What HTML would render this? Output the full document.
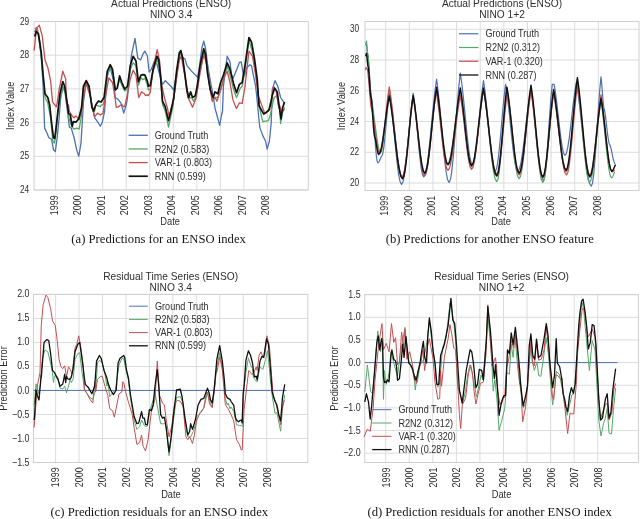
<!DOCTYPE html><html><head><meta charset="utf-8"><style>html,body{margin:0;padding:0;background:#fff;width:640px;height:519px;overflow:hidden}svg{display:block;filter:blur(0.5px);}text{font-family:"Liberation Sans",sans-serif;fill:#2e2e2e}.cap{font-family:"Liberation Serif",serif;fill:#151515}</style></head><body>
<svg width="640" height="519" viewBox="0 0 640 519">
<line x1="55.6" y1="21.5" x2="55.6" y2="190" stroke="#dcdcdc"/>
<line x1="79.14" y1="21.5" x2="79.14" y2="190" stroke="#dcdcdc"/>
<line x1="102.68" y1="21.5" x2="102.68" y2="190" stroke="#dcdcdc"/>
<line x1="126.22" y1="21.5" x2="126.22" y2="190" stroke="#dcdcdc"/>
<line x1="149.76" y1="21.5" x2="149.76" y2="190" stroke="#dcdcdc"/>
<line x1="173.3" y1="21.5" x2="173.3" y2="190" stroke="#dcdcdc"/>
<line x1="196.84" y1="21.5" x2="196.84" y2="190" stroke="#dcdcdc"/>
<line x1="220.38" y1="21.5" x2="220.38" y2="190" stroke="#dcdcdc"/>
<line x1="243.92" y1="21.5" x2="243.92" y2="190" stroke="#dcdcdc"/>
<line x1="267.46" y1="21.5" x2="267.46" y2="190" stroke="#dcdcdc"/>
<line x1="34" y1="190" x2="308.3" y2="190" stroke="#dcdcdc"/>
<line x1="34" y1="156.3" x2="308.3" y2="156.3" stroke="#dcdcdc"/>
<line x1="34" y1="122.6" x2="308.3" y2="122.6" stroke="#dcdcdc"/>
<line x1="34" y1="88.9" x2="308.3" y2="88.9" stroke="#dcdcdc"/>
<line x1="34" y1="55.2" x2="308.3" y2="55.2" stroke="#dcdcdc"/>
<line x1="34" y1="21.5" x2="308.3" y2="21.5" stroke="#dcdcdc"/>
<rect x="34" y="21.5" width="274.3" height="168.5" fill="none" stroke="#d0d0d0"/>
<polyline fill="none" stroke="#4C72B0" stroke-width="1.3" stroke-linejoin="round" points="34.69,31.88 36.56,28.12 39.38,39.38 41.25,58.12 43.12,86.25 44.62,128.12 46.88,132.81 48.75,137.5 51.56,139.38 53.44,149.69 55.31,151.56 57.19,137.5 59.06,118.75 60.5,100 62.8,86.5 65,92 67.5,112 69.38,127.19 71.25,128.12 74.06,137.5 76.88,150.62 78.75,156.25 81,143.12 83.44,102.5 86.25,80.62 89,87 92,106 94.69,117.81 97.5,121.56 100.31,126.25 102.19,122.5 104.62,111.25 106.88,76.88 110.25,67.5 113.44,80.62 115.31,97.5 118.12,99.38 120.94,103.12 123.75,113.12 126.56,103.75 127.5,97.5 131.25,56.25 135,38.44 137.81,58.12 140.62,60 142.81,54.38 144.81,51.09 147.34,55.78 149.22,72.19 151.25,69.38 154.06,61.88 156.88,63.75 158.75,71.25 162.5,84.38 165.31,80.62 168.12,83.44 170.94,86.25 173.75,90 176.56,73.12 180.31,52.5 183.1,57.9 184.9,58.9 187,65.6 191.8,71.4 197.6,77.2 199,70 201.88,47.81 203.75,41.25 205.62,48.75 207.5,63.75 210.31,80.62 213.12,95.62 215,108.12 216.88,115 219.69,125.31 221.56,115 222.5,111.25 223.44,86.25 227.19,56.25 230,61.88 231.4,73.9 233.1,78.6 235.4,72.8 237.7,67 239.45,62.4 241.2,61.8 242.3,68.2 243.5,76.2 244.65,75.7 246.4,68.2 249.9,64.7 251.6,65.8 253.3,75.1 255.6,86 257.3,102 259.2,122 260,128.12 262.81,135.62 265.62,141.25 267.12,149.12 269.38,141.25 271.25,122.5 272.19,90 275,80.62 277.81,86.25 280.62,97.5 284.38,103.12"/>
<polyline fill="none" stroke="#55A868" stroke-width="1.3" stroke-linejoin="round" points="34.88,29.06 36.19,27.75 37.5,28.5 41.25,56.25 43.12,76.88 45,97.5 47.81,103.12 50.62,118.75 52.88,141.25 54.38,143.12 55.88,133.75 58.12,111.25 60,97.5 63.38,87.19 65.62,93.75 69,118.75 72.19,127.19 74.06,129.06 76.88,128.12 79.12,129.06 81.56,115 83.44,88.12 86.25,83.44 90,93.75 92.81,110.94 94.69,111.25 95.62,105 97.5,105.62 100.31,106.56 101.25,105 103.12,104.69 104.06,101.25 107.81,73.12 110.25,67.5 112.5,71.25 115.31,90 117.2,88.1 119.6,79.5 121.9,85.5 124.7,91 127.5,89 130.31,69.38 133.12,62.81 135.94,65.62 138.38,85.31 141,77.81 142.81,79.69 144.81,78.28 147.19,84.38 148.44,90 150.31,89.06 153.12,71.25 156.88,60 158.75,63.75 160.62,78.75 162.5,104.38 165.31,110.94 168.5,127.19 171.88,111.25 172.81,106.88 176.56,76.88 179.38,54.38 180.88,53.44 182.75,60.94 185.94,80.62 188.75,98.44 191.56,97.5 193.44,101.25 196.25,95.62 200,71.25 203.75,52.5 206.56,60 209.38,82.5 212.19,99.38 215,97.5 217.81,97.5 220.62,90 223.44,78.75 227.19,66.56 230,75 233.75,90 236.56,97.5 240.31,88.12 242.19,86.25 245,69.38 248.94,40.78 251.84,49.69 254.56,63.75 257.19,86.25 260,110 262.81,121.56 268.44,120.62 270.31,115 274.06,97.5 276.88,95.62 278.75,107.5 279.69,108.75 280.6,123.4 282.5,112.81 284.56,107.19"/>
<polyline fill="none" stroke="#C44E52" stroke-width="1.3" stroke-linejoin="round" points="34.12,50.62 36.56,28.12 39.38,25.31 42.19,35.62 45,60 47.81,67.5 50.62,80.62 52.5,101.88 53.44,103.12 55.31,105.62 56.25,106.88 57.19,102.81 59.06,90 62.81,71.25 65.62,78.75 66.56,103.75 68.44,105 69.38,111.25 72.19,115.94 74.06,117.81 75.94,115.94 79.12,119.69 81.56,111.25 84,93.75 86.25,83.44 90,95.62 92.81,108.75 94.69,116.88 97.5,113.12 100.31,115 103.12,113.12 105,99.69 108.75,77.81 112.5,82.5 115.31,99.38 116.25,107.5 118.12,106.88 120.94,105 121.88,104.69 123.75,106.88 124.69,106.56 127.5,93.75 130.31,78.75 133.12,70.31 135.94,75 138.75,97.5 141.56,91.88 142.81,92.81 144.38,93.75 145.62,95.62 147.19,94.69 148.44,95.62 150.31,91.88 153.12,67.5 157.25,49.69 159.69,61.88 161.56,84.38 164.38,97.5 167.19,107.19 169.06,115.94 171.88,105.62 172.81,105 175.62,84.38 179.38,60 181.25,56.25 185,76.88 187.81,97.5 189.97,101.56 192.5,107.19 194.38,102.5 196.25,97.5 200,73.12 203.75,54.38 206.56,63.75 209.38,84.38 212.19,101.25 215,97.5 216.88,101.25 220.62,90 224.38,76.88 227.19,71.25 230,82.5 232.81,99.38 235.62,106.88 236.56,108.44 239.38,102.81 242.19,103.44 245,86.25 248.94,51.09 252.5,56.25 255.31,73.12 257.19,86.25 258.12,95.62 260.94,103.12 264.69,113.12 268.44,111.25 270.31,103.12 271.25,103.75 273.5,86.25 275.94,90 278.75,106.88 279.69,105.62 281.56,112.81 283.44,109.38 284.38,110.47"/>
<polyline fill="none" stroke="#111111" stroke-width="1.7" stroke-linejoin="round" points="34.69,36.56 36.19,31.5 38.44,33.75 41.25,52.5 43.12,75 45,93.75 47.81,97.5 49.69,105 51.56,122.5 53.44,137.5 54.75,138.44 56.25,126.25 58.12,109.38 60,93.75 62.81,81.56 64.69,86.25 67.5,105 68.44,113.12 70.31,115 72.19,126.25 73.5,121.56 75.94,122.12 78.75,118.75 81.56,107.5 83.44,86.25 86.25,80.62 89.06,86.25 91.88,107.19 93.56,110.94 95.81,104.84 98.44,101.09 101.06,102.03 104.06,97.5 107.25,71.25 110.25,64.69 112.5,69.38 115.31,90 117.19,88.12 119.62,75.94 121.88,82.5 124.69,89.06 127.5,86.25 130.31,65.62 133.12,56.25 135.94,60.94 138.38,81.56 141,75 142.81,74.62 144.81,74.81 147.19,80.62 148.44,86.25 150.31,85.31 153.12,69.38 156.88,56.25 158.75,60 160.62,76.88 162.5,101.25 165.31,106.88 166.25,111.25 168.5,120.62 170.94,111.25 173.75,97.5 176.56,71.25 179.38,52.5 180.88,50.62 182.75,58.12 185,75 186.88,90 188.75,97.5 190.62,91.88 192.5,97.5 195.31,95.62 197.19,86.25 200,65.62 203.75,48.75 205.62,54.38 207.5,73.12 210.31,90 213.12,97.5 215,91.88 217.81,93.75 220.62,82.5 223.44,75 227.19,62.81 230,69.38 233.75,84.38 236.56,92.81 239.38,84.38 242.19,82.5 245,65.62 248.94,37.5 251.56,42.19 254.38,58.12 257.19,78.75 259.06,105.78 263.75,114.06 266.56,112.19 269.38,109.38 272.19,95.62 274.62,88.12 277.25,91.88 279.69,110 281,118.8 282.5,108.12 284.56,102.03"/>
<text transform="translate(29.2,193) scale(1,1.27)" font-size="8.3" text-anchor="end">24</text>
<text transform="translate(29.2,159.3) scale(1,1.27)" font-size="8.3" text-anchor="end">25</text>
<text transform="translate(29.2,125.6) scale(1,1.27)" font-size="8.3" text-anchor="end">26</text>
<text transform="translate(29.2,91.9) scale(1,1.27)" font-size="8.3" text-anchor="end">27</text>
<text transform="translate(29.2,58.2) scale(1,1.27)" font-size="8.3" text-anchor="end">28</text>
<text transform="translate(29.2,24.5) scale(1,1.27)" font-size="8.3" text-anchor="end">29</text>
<text transform="translate(57.5,195.3) rotate(-90) scale(1,1.12)" font-size="9" text-anchor="end">1999</text>
<text transform="translate(81.04,195.3) rotate(-90) scale(1,1.12)" font-size="9" text-anchor="end">2000</text>
<text transform="translate(104.58,195.3) rotate(-90) scale(1,1.12)" font-size="9" text-anchor="end">2001</text>
<text transform="translate(128.12,195.3) rotate(-90) scale(1,1.12)" font-size="9" text-anchor="end">2002</text>
<text transform="translate(151.66,195.3) rotate(-90) scale(1,1.12)" font-size="9" text-anchor="end">2003</text>
<text transform="translate(175.2,195.3) rotate(-90) scale(1,1.12)" font-size="9" text-anchor="end">2004</text>
<text transform="translate(198.74,195.3) rotate(-90) scale(1,1.12)" font-size="9" text-anchor="end">2005</text>
<text transform="translate(222.28,195.3) rotate(-90) scale(1,1.12)" font-size="9" text-anchor="end">2006</text>
<text transform="translate(245.82,195.3) rotate(-90) scale(1,1.12)" font-size="9" text-anchor="end">2007</text>
<text transform="translate(269.36,195.3) rotate(-90) scale(1,1.12)" font-size="9" text-anchor="end">2008</text>
<text transform="translate(171.15,7.3) scale(1,1.08)" font-size="10.2" text-anchor="middle">Actual Predictions (ENSO)</text>
<text transform="translate(171.15,18.2) scale(1,1.08)" font-size="10.2" text-anchor="middle">NINO 3.4</text>
<text transform="translate(170.15,224.6) scale(1,1.1)" font-size="9.3" text-anchor="middle">Date</text>
<text transform="translate(14.4,105.75) rotate(-90) scale(1,1.1)" font-size="9.3" text-anchor="middle">Index Value</text>
<line x1="128.6" y1="135.3" x2="147.8" y2="135.3" stroke="#4C72B0" stroke-width="1.3"/>
<text transform="translate(154.7,138.9) scale(1,1.15)" font-size="9.1">Ground Truth</text>
<line x1="128.6" y1="148.95" x2="147.8" y2="148.95" stroke="#55A868" stroke-width="1.3"/>
<text transform="translate(154.7,152.55) scale(1,1.15)" font-size="9.1">R2N2 (0.583)</text>
<line x1="128.6" y1="162.6" x2="147.8" y2="162.6" stroke="#C44E52" stroke-width="1.3"/>
<text transform="translate(154.7,166.2) scale(1,1.15)" font-size="9.1">VAR-1 (0.803)</text>
<line x1="128.6" y1="176.25" x2="147.8" y2="176.25" stroke="#111111" stroke-width="1.7"/>
<text transform="translate(154.7,179.85) scale(1,1.15)" font-size="9.1">RNN (0.599)</text>
<text class="cap" transform="translate(158.6,243)" font-size="12.65" text-anchor="middle">(a) Predictions for an ENSO index</text>
<line x1="385.7" y1="21.5" x2="385.7" y2="190.5" stroke="#dcdcdc"/>
<line x1="409.33" y1="21.5" x2="409.33" y2="190.5" stroke="#dcdcdc"/>
<line x1="432.96" y1="21.5" x2="432.96" y2="190.5" stroke="#dcdcdc"/>
<line x1="456.59" y1="21.5" x2="456.59" y2="190.5" stroke="#dcdcdc"/>
<line x1="480.22" y1="21.5" x2="480.22" y2="190.5" stroke="#dcdcdc"/>
<line x1="503.85" y1="21.5" x2="503.85" y2="190.5" stroke="#dcdcdc"/>
<line x1="527.48" y1="21.5" x2="527.48" y2="190.5" stroke="#dcdcdc"/>
<line x1="551.11" y1="21.5" x2="551.11" y2="190.5" stroke="#dcdcdc"/>
<line x1="574.74" y1="21.5" x2="574.74" y2="190.5" stroke="#dcdcdc"/>
<line x1="598.37" y1="21.5" x2="598.37" y2="190.5" stroke="#dcdcdc"/>
<line x1="365" y1="183" x2="639" y2="183" stroke="#dcdcdc"/>
<line x1="365" y1="152.25" x2="639" y2="152.25" stroke="#dcdcdc"/>
<line x1="365" y1="121.5" x2="639" y2="121.5" stroke="#dcdcdc"/>
<line x1="365" y1="90.75" x2="639" y2="90.75" stroke="#dcdcdc"/>
<line x1="365" y1="60" x2="639" y2="60" stroke="#dcdcdc"/>
<line x1="365" y1="29.25" x2="639" y2="29.25" stroke="#dcdcdc"/>
<rect x="365" y="21.5" width="274" height="169" fill="none" stroke="#d0d0d0"/>
<polyline fill="none" stroke="#4C72B0" stroke-width="1.2" stroke-linejoin="round" points="365.5,45 365.59,44.95 365.68,44.79 365.76,44.55 365.85,44.25 365.94,43.92 366.02,43.6 366.11,43.32 366.2,43.1 366.43,44.49 366.65,46.25 366.88,48.24 367.1,50.28 367.32,52.16 367.55,53.68 367.77,54.66 368,55 368.5,60.25 369,66.91 369.5,74.45 370,82.16 370.5,89.26 371,94.99 371.5,98.71 372,100 372.73,107.32 373.45,116.61 374.18,127.14 374.9,137.9 375.62,147.82 376.35,155.81 377.07,161 377.8,162.8 378.28,162.61 378.75,162.07 379.23,161.24 379.7,160.2 380.18,159.08 380.65,157.98 381.12,157.01 381.6,156.25 382.59,154.41 383.58,149.1 384.56,140.92 385.55,130.78 386.54,119.76 387.52,109 388.51,99.49 389.5,92 391.01,102.77 392.52,116.45 394.04,131.93 395.55,147.77 397.06,162.35 398.58,174.12 400.09,181.75 401.6,184.4 403.05,181.79 404.5,174.24 405.95,162.62 407.4,148.2 408.85,132.55 410.3,117.25 411.75,103.74 413.2,93.1 414.52,102.87 415.84,115.27 417.16,129.31 418.48,143.68 419.79,156.91 421.11,167.57 422.43,174.5 423.75,176.9 425.36,174.1 426.96,166.02 428.57,153.58 430.18,138.15 431.78,121.39 433.39,105.01 434.99,90.55 436.6,79.15 438.16,91.2 439.73,106.49 441.29,123.81 442.85,141.53 444.41,157.84 445.98,171 447.54,179.54 449.1,182.5 450.5,179.37 451.9,170.33 453.3,156.4 454.7,139.13 456.1,120.37 457.5,102.04 458.9,85.85 460.3,73.1 461.82,83.78 463.35,97.33 464.88,112.68 466.4,128.39 467.93,142.84 469.45,154.51 470.98,162.08 472.5,164.7 473.88,162.29 475.25,155.34 476.62,144.63 478,131.36 479.38,116.94 480.75,102.85 482.12,90.4 483.5,80.6 484.98,91.17 486.45,104.6 487.93,119.79 489.4,135.34 490.88,149.66 492.35,161.21 493.82,168.7 495.3,171.3 496.59,168.81 497.88,161.63 499.16,150.57 500.45,136.85 501.74,121.95 503.03,107.39 504.31,94.53 505.6,84.4 507.12,94.53 508.65,107.39 510.18,121.95 511.7,136.85 513.23,150.57 514.75,161.63 516.27,168.81 517.8,171.3 519.45,168.91 521.1,162.03 522.75,151.43 524.4,138.28 526.05,124 527.7,110.04 529.35,97.71 531,88 532.55,98.79 534.1,112.5 535.65,128.01 537.2,143.89 538.75,158.51 540.3,170.3 541.85,177.95 543.4,180.6 544.51,177.85 545.61,169.89 546.72,157.65 547.83,142.46 548.93,125.97 550.04,109.85 551.14,95.61 552.25,84.4 552.48,84.4 552.71,84.4 552.94,84.4 553.17,84.4 553.41,84.4 553.64,84.4 553.87,84.4 554.1,84.4 555.46,92.67 556.83,103.16 558.19,115.04 559.55,127.19 560.91,138.38 562.27,147.41 563.64,153.27 565,155.3 566.41,153.22 567.83,147.2 569.24,137.93 570.65,126.44 572.06,113.96 573.47,101.76 574.89,90.99 576.3,82.5 578.17,94.59 580.05,109.95 581.92,127.33 583.8,145.12 585.67,161.5 587.55,174.7 589.42,183.28 591.3,186.25 592.51,183.12 593.72,174.08 594.94,160.16 596.15,142.9 597.36,124.15 598.58,105.83 599.79,89.65 601,76.9 601.42,80.69 601.85,85.5 602.27,90.94 602.7,96.52 603.12,101.65 603.55,105.78 603.98,108.47 604.4,109.4 605.1,113.55 605.8,118.82 606.5,124.78 607.2,130.89 607.9,136.51 608.6,141.04 609.3,143.98 610,145 610.66,147.19 611.33,149.96 611.99,153.1 612.65,156.32 613.31,159.28 613.97,161.66 614.64,163.21 615.3,163.75"/>
<polyline fill="none" stroke="#55A868" stroke-width="1.2" stroke-linejoin="round" points="365.6,43 365.71,42.95 365.83,42.81 365.94,42.58 366.05,42.31 366.16,42.01 366.27,41.71 366.39,41.45 366.5,41.25 366.69,42.85 366.88,44.89 367.06,47.19 367.25,49.55 367.44,51.72 367.62,53.47 367.81,54.61 368,55 368.5,60.83 369,68.23 369.5,76.61 370,85.18 370.5,93.07 371,99.44 371.5,103.57 372,105 373.07,110.54 374.15,117.57 375.23,125.53 376.3,133.67 377.38,141.17 378.45,147.21 379.53,151.14 380.6,152.5 381.69,150.69 382.78,145.47 383.86,137.42 384.95,127.44 386.04,116.61 387.12,106.02 388.21,96.67 389.3,89.3 390.91,99.64 392.52,112.77 394.14,127.63 395.75,142.84 397.36,156.84 398.98,168.13 400.59,175.46 402.2,178 403.57,175.65 404.95,168.87 406.32,158.44 407.7,145.49 409.07,131.43 410.45,117.69 411.82,105.56 413.2,96 414.64,105.09 416.07,116.64 417.51,129.7 418.95,143.08 420.39,155.39 421.82,165.32 423.26,171.77 424.7,174 426.19,171.57 427.68,164.54 429.16,153.72 430.65,140.3 432.14,125.73 433.62,111.49 435.11,98.91 436.6,89 437.93,97.82 439.25,109.03 440.57,121.71 441.9,134.69 443.23,146.64 444.55,156.28 445.88,162.53 447.2,164.7 448.84,162.56 450.48,156.39 452.11,146.88 453.75,135.09 455.39,122.28 457.02,109.76 458.66,98.71 460.3,90 461.71,98.98 463.12,110.37 464.54,123.27 465.95,136.47 467.36,148.63 468.78,158.43 470.19,164.79 471.6,167 473.09,164.77 474.58,158.32 476.06,148.39 477.55,136.08 479.04,122.7 480.52,109.64 482.01,98.09 483.5,89 485.16,99.79 486.82,113.5 488.49,129.01 490.15,144.89 491.81,159.51 493.48,171.3 495.14,178.95 496.8,181.6 498.06,178.95 499.32,171.3 500.59,159.51 501.85,144.89 503.11,129.01 504.38,113.5 505.64,99.79 506.9,89 508.42,99.46 509.95,112.74 511.48,127.78 513,143.17 514.52,157.34 516.05,168.76 517.58,176.18 519.1,178.75 520.59,176.15 522.08,168.65 523.56,157.1 525.05,142.77 526.54,127.21 528.02,112.01 529.51,98.58 531,88 532.48,99.02 533.95,113 535.42,128.83 536.9,145.04 538.38,159.95 539.85,171.98 541.32,179.79 542.8,182.5 544.15,179.88 545.5,172.32 546.85,160.67 548.2,146.23 549.55,130.54 550.9,115.21 552.25,101.67 553.6,91 555.16,100.44 556.73,112.43 558.29,126 559.85,139.89 561.41,152.67 562.98,162.99 564.54,169.68 566.1,172 567.51,169.37 568.92,161.76 570.34,150.05 571.75,135.53 573.16,119.75 574.58,104.34 575.99,90.72 577.4,80 578.91,91.95 580.42,107.12 581.94,124.29 583.45,141.86 584.96,158.04 586.48,171.09 587.99,179.56 589.5,182.5 590.94,180.17 592.38,173.43 593.81,163.05 595.25,150.19 596.69,136.22 598.12,122.56 599.56,110.5 601,101 602.31,109.95 603.62,121.32 604.94,134.19 606.25,147.35 607.56,159.48 608.88,169.25 610.19,175.6 611.5,177.8 611.9,177.63 612.3,177.15 612.7,176.42 613.1,175.5 613.5,174.51 613.9,173.53 614.3,172.68 614.7,172"/>
<polyline fill="none" stroke="#C44E52" stroke-width="1.2" stroke-linejoin="round" points="365.5,70 365.56,69.93 365.62,69.72 365.69,69.4 365.75,69.01 365.81,68.58 365.88,68.16 365.94,67.79 366,67.5 366.19,67.72 366.38,68 366.56,68.32 366.75,68.65 366.94,68.95 367.12,69.19 367.31,69.35 367.5,69.4 368.06,74.13 368.62,80.14 369.19,86.94 369.75,93.9 370.31,100.31 370.88,105.48 371.44,108.84 372,110 372.96,115.06 373.93,121.48 374.89,128.75 375.85,136.19 376.81,143.05 377.77,148.57 378.74,152.16 379.7,153.4 380.9,151.5 382.1,146 383.3,137.53 384.5,127.04 385.7,115.64 386.9,104.49 388.1,94.65 389.3,86.9 390.91,97.39 392.52,110.71 394.14,125.79 395.75,141.22 397.36,155.43 398.98,166.88 400.59,174.32 402.2,176.9 403.55,174.6 404.9,167.95 406.25,157.72 407.6,145.03 408.95,131.24 410.3,117.77 411.65,105.87 413,96.5 414.46,105.77 415.93,117.53 417.39,130.85 418.85,144.48 420.31,157.03 421.77,167.15 423.24,173.72 424.7,176 426.14,173.59 427.57,166.64 429.01,155.93 430.45,142.66 431.89,128.24 433.32,114.15 434.76,101.7 436.2,91.9 437.68,101.04 439.15,112.64 440.62,125.78 442.1,139.22 443.57,151.59 445.05,161.58 446.52,168.05 448,170.3 449.54,168.16 451.07,161.99 452.61,152.48 454.15,140.69 455.69,127.88 457.23,115.36 458.76,104.31 460.3,95.6 461.71,104.2 463.12,115.12 464.54,127.49 465.95,140.14 467.36,151.79 468.78,161.19 470.19,167.29 471.6,169.4 473.09,167.13 474.58,160.56 476.06,150.46 477.55,137.92 479.04,124.31 480.52,111.01 482.01,99.26 483.5,90 485.16,99.79 486.82,112.22 488.49,126.3 490.15,140.7 491.81,153.96 493.48,164.65 495.14,171.59 496.8,174 498.14,171.65 499.48,164.87 500.81,154.44 502.15,141.49 503.49,127.43 504.82,113.69 506.16,101.56 507.5,92 508.95,101.68 510.4,113.96 511.85,127.87 513.3,142.09 514.75,155.2 516.2,165.76 517.65,172.62 519.1,175 520.59,172.62 522.08,165.76 523.56,155.2 525.05,142.09 526.54,127.87 528.02,113.96 529.51,101.68 531,92 532.48,102.03 533.95,114.75 535.42,129.16 536.9,143.91 538.38,157.48 539.85,168.43 541.32,175.54 542.8,178 544.15,175.59 545.5,168.62 546.85,157.9 548.2,144.6 549.55,130.16 550.9,116.04 552.25,103.57 553.6,93.75 555.21,103.22 556.83,115.25 558.44,128.86 560.05,142.79 561.66,155.61 563.27,165.96 564.89,172.67 566.5,175 567.89,172.41 569.27,164.92 570.66,153.38 572.05,139.08 573.44,123.55 574.83,108.37 576.21,94.96 577.6,84.4 579.12,94.96 580.65,108.37 582.17,123.55 583.7,139.08 585.23,153.38 586.75,164.92 588.27,172.41 589.8,175 591.2,172.7 592.6,166.06 594,155.84 595.4,143.17 596.8,129.4 598.2,115.94 599.6,104.06 601,94.7 602.38,103.71 603.75,115.15 605.12,128.1 606.5,141.35 607.88,153.56 609.25,163.4 610.62,169.79 612,172 612.34,171.95 612.67,171.81 613.01,171.59 613.35,171.33 613.69,171.03 614.03,170.75 614.36,170.5 614.7,170.3"/>
<polyline fill="none" stroke="#111111" stroke-width="1.5" stroke-linejoin="round" points="365.5,56 365.62,55.93 365.75,55.71 365.88,55.38 366,54.97 366.12,54.52 366.25,54.09 366.38,53.7 366.5,53.4 366.74,55.04 366.98,57.13 367.21,59.49 367.45,61.91 367.69,64.14 367.92,65.93 368.16,67.1 368.4,67.5 368.76,71.06 369.11,75.57 369.47,80.68 369.82,85.91 370.18,90.72 370.54,94.61 370.89,97.13 371.25,98 371.72,102.6 372.19,108.45 372.66,115.07 373.12,121.84 373.59,128.08 374.06,133.1 374.53,136.37 375,137.5 375.47,139.47 375.94,141.97 376.41,144.8 376.88,147.7 377.34,150.37 377.81,152.52 378.28,153.92 378.75,154.4 380.07,152.73 381.39,147.9 382.71,140.47 384.02,131.25 385.34,121.24 386.66,111.45 387.98,102.81 389.3,96 390.95,105.65 392.6,117.89 394.25,131.76 395.9,145.94 397.55,159.01 399.2,169.54 400.85,176.38 402.5,178.75 403.84,176.37 405.18,169.49 406.51,158.89 407.85,145.75 409.19,131.47 410.52,117.53 411.86,105.2 413.2,95.5 414.64,104.55 416.07,116.03 417.51,129.03 418.95,142.34 420.39,154.59 421.82,164.46 423.26,170.88 424.7,173.1 426.19,170.64 427.68,163.55 429.16,152.63 430.65,139.08 432.14,124.38 433.62,110 435.11,97.3 436.6,87.3 438.03,96.32 439.45,107.78 440.88,120.75 442.3,134.02 443.73,146.23 445.15,156.09 446.57,162.48 448,164.7 449.54,162.51 451.07,156.18 452.61,146.42 454.15,134.33 455.69,121.2 457.23,108.37 458.76,97.03 460.3,88.1 461.71,97.13 463.12,108.6 464.54,121.59 465.95,134.88 467.36,147.11 468.78,156.98 470.19,163.38 471.6,165.6 473.09,163.38 474.58,156.98 476.06,147.11 477.55,134.88 479.04,121.59 480.52,108.6 482.01,97.13 483.5,88.1 485.16,98.35 486.82,111.36 488.49,126.08 490.15,141.15 491.81,155.03 493.48,166.22 495.14,173.48 496.8,176 498.06,173.46 499.32,166.12 500.59,154.81 501.85,140.8 503.11,125.57 504.38,110.69 505.64,97.55 506.9,87.2 508.42,97.21 509.95,109.93 511.48,124.32 513,139.05 514.52,152.6 516.05,163.54 517.58,170.64 519.1,173.1 520.59,170.59 522.08,163.33 523.56,152.15 525.05,138.29 526.54,123.24 528.02,108.53 529.51,95.54 531,85.3 532.48,95.98 533.95,109.53 535.42,124.88 536.9,140.59 538.38,155.04 539.85,166.71 541.32,174.28 542.8,176.9 544.15,174.4 545.5,167.17 546.85,156.05 548.2,142.25 549.55,127.27 550.9,112.62 552.25,99.69 553.6,89.5 555.16,98.92 556.73,110.88 558.29,124.41 559.85,138.27 561.41,151.02 562.98,161.31 564.54,167.99 566.1,170.3 567.51,167.65 568.92,160.01 570.34,148.23 571.75,133.63 573.16,117.77 574.58,102.27 575.99,88.58 577.4,77.8 578.95,89.35 580.5,104.02 582.05,120.62 583.6,137.61 585.15,153.26 586.7,165.87 588.25,174.06 589.8,176.9 591.2,174.65 592.6,168.16 594,158.17 595.4,145.78 596.8,132.32 598.2,119.17 599.6,107.55 601,98.4 602.36,106.89 603.73,117.67 605.09,129.88 606.45,142.37 607.81,153.87 609.17,163.14 610.54,169.16 611.9,171.25 612.36,171.06 612.83,170.52 613.29,169.69 613.75,168.65 614.21,167.53 614.67,166.43 615.14,165.46 615.6,164.7"/>
<text transform="translate(359.2,186) scale(1,1.27)" font-size="8.3" text-anchor="end">20</text>
<text transform="translate(359.2,155.25) scale(1,1.27)" font-size="8.3" text-anchor="end">22</text>
<text transform="translate(359.2,124.5) scale(1,1.27)" font-size="8.3" text-anchor="end">24</text>
<text transform="translate(359.2,93.75) scale(1,1.27)" font-size="8.3" text-anchor="end">26</text>
<text transform="translate(359.2,63) scale(1,1.27)" font-size="8.3" text-anchor="end">28</text>
<text transform="translate(359.2,32.25) scale(1,1.27)" font-size="8.3" text-anchor="end">30</text>
<text transform="translate(388.1,195.8) rotate(-90) scale(1,1.12)" font-size="9" text-anchor="end">1999</text>
<text transform="translate(411.73,195.8) rotate(-90) scale(1,1.12)" font-size="9" text-anchor="end">2000</text>
<text transform="translate(435.36,195.8) rotate(-90) scale(1,1.12)" font-size="9" text-anchor="end">2001</text>
<text transform="translate(458.99,195.8) rotate(-90) scale(1,1.12)" font-size="9" text-anchor="end">2002</text>
<text transform="translate(482.62,195.8) rotate(-90) scale(1,1.12)" font-size="9" text-anchor="end">2003</text>
<text transform="translate(506.25,195.8) rotate(-90) scale(1,1.12)" font-size="9" text-anchor="end">2004</text>
<text transform="translate(529.88,195.8) rotate(-90) scale(1,1.12)" font-size="9" text-anchor="end">2005</text>
<text transform="translate(553.51,195.8) rotate(-90) scale(1,1.12)" font-size="9" text-anchor="end">2006</text>
<text transform="translate(577.14,195.8) rotate(-90) scale(1,1.12)" font-size="9" text-anchor="end">2007</text>
<text transform="translate(600.77,195.8) rotate(-90) scale(1,1.12)" font-size="9" text-anchor="end">2008</text>
<text transform="translate(502,7.3) scale(1,1.08)" font-size="10.2" text-anchor="middle">Actual Predictions (ENSO)</text>
<text transform="translate(502,18.2) scale(1,1.08)" font-size="10.2" text-anchor="middle">NINO 1+2</text>
<text transform="translate(501,225.1) scale(1,1.1)" font-size="9.3" text-anchor="middle">Date</text>
<text transform="translate(344.8,106) rotate(-90) scale(1,1.1)" font-size="9.3" text-anchor="middle">Index Value</text>
<line x1="459" y1="33.75" x2="478.4" y2="33.75" stroke="#4C72B0" stroke-width="1.2"/>
<text transform="translate(485.4,37.35) scale(1,1.15)" font-size="9.1">Ground Truth</text>
<line x1="459" y1="47.5" x2="478.4" y2="47.5" stroke="#55A868" stroke-width="1.2"/>
<text transform="translate(485.4,51.1) scale(1,1.15)" font-size="9.1">R2N2 (0.312)</text>
<line x1="459" y1="61.25" x2="478.4" y2="61.25" stroke="#C44E52" stroke-width="1.2"/>
<text transform="translate(485.4,64.85) scale(1,1.15)" font-size="9.1">VAR-1 (0.320)</text>
<line x1="459" y1="75" x2="478.4" y2="75" stroke="#111111" stroke-width="1.3"/>
<text transform="translate(485.4,78.6) scale(1,1.15)" font-size="9.1">RNN (0.287)</text>
<text class="cap" transform="translate(489.8,243)" font-size="12.65" text-anchor="middle">(b) Predictions for another ENSO feature</text>
<line x1="55.6" y1="294.4" x2="55.6" y2="462.5" stroke="#dcdcdc"/>
<line x1="79.06" y1="294.4" x2="79.06" y2="462.5" stroke="#dcdcdc"/>
<line x1="102.52" y1="294.4" x2="102.52" y2="462.5" stroke="#dcdcdc"/>
<line x1="125.98" y1="294.4" x2="125.98" y2="462.5" stroke="#dcdcdc"/>
<line x1="149.44" y1="294.4" x2="149.44" y2="462.5" stroke="#dcdcdc"/>
<line x1="172.9" y1="294.4" x2="172.9" y2="462.5" stroke="#dcdcdc"/>
<line x1="196.36" y1="294.4" x2="196.36" y2="462.5" stroke="#dcdcdc"/>
<line x1="219.82" y1="294.4" x2="219.82" y2="462.5" stroke="#dcdcdc"/>
<line x1="243.28" y1="294.4" x2="243.28" y2="462.5" stroke="#dcdcdc"/>
<line x1="266.74" y1="294.4" x2="266.74" y2="462.5" stroke="#dcdcdc"/>
<line x1="33.5" y1="462.55" x2="307.8" y2="462.55" stroke="#dcdcdc"/>
<line x1="33.5" y1="438.53" x2="307.8" y2="438.53" stroke="#dcdcdc"/>
<line x1="33.5" y1="414.51" x2="307.8" y2="414.51" stroke="#dcdcdc"/>
<line x1="33.5" y1="390.5" x2="307.8" y2="390.5" stroke="#dcdcdc"/>
<line x1="33.5" y1="366.49" x2="307.8" y2="366.49" stroke="#dcdcdc"/>
<line x1="33.5" y1="342.47" x2="307.8" y2="342.47" stroke="#dcdcdc"/>
<line x1="33.5" y1="318.45" x2="307.8" y2="318.45" stroke="#dcdcdc"/>
<line x1="33.5" y1="294.44" x2="307.8" y2="294.44" stroke="#dcdcdc"/>
<rect x="33.5" y="294.4" width="274.3" height="168.1" fill="none" stroke="#d0d0d0"/>
<polyline fill="none" stroke="#4C72B0" stroke-width="1.0" stroke-linejoin="round" points="33.5,390.4 286.25,390.4"/>
<polyline fill="none" stroke="#55A868" stroke-width="1.0" stroke-linejoin="round" points="34.2,405 36,383.8 37,388 38.8,393.8 40,386 40.31,384.38 42.19,359.25 45,349.88 47.81,351.75 50.62,363 52.5,372.38 53.44,382.5 54.38,376.12 56.25,375.56 58.12,378 60,388.12 62.81,389.06 64.69,386.25 66.56,392.81 68.44,386.25 70.31,378.94 71.25,382.5 73.12,379.31 75,359.25 77.81,353.62 79.69,352.69 81.56,368.62 84.38,388.69 87.19,393.75 90,397.5 92.81,399.38 95.62,390 97.5,363 99.75,360.19 102.19,363 105,374.25 106.88,386.25 107.81,381.75 109.69,396.56 112.5,392.81 115.31,390 119.06,364.88 121.88,358.31 123.75,358.31 125.62,368.62 128.44,379.88 130.31,397.5 134.06,420 136.88,429.38 139.69,426.56 141.56,420 144.38,425.62 145.62,426.56 147.34,426.09 149.38,412.5 155,393.75 160.62,423.75 162.5,423.75 165.31,423.75 167.19,436.88 169.06,455.62 170.94,440.62 173.75,418.12 176.56,397.5 180.31,396.56 183.12,403.12 185,421.88 187.81,436.88 190.62,436.88 193.44,431.25 196.25,421.88 200,412.5 203.75,408.28 207.5,392.34 210.31,403.12 212.19,406.88 215,382.5 216.88,366.75 219.69,352.69 222.31,367.69 224.38,386.81 225.31,398.44 227.19,405 228.12,403.12 230,408.75 230.94,406.88 233.75,411.56 236.56,424.69 239.38,425.62 241.25,425.62 242.19,426.56 244.06,386.25 245,380.62 245.94,372.38 248.38,358.31 250.62,364.88 252.5,368.62 253.44,377.44 256.25,381.19 257.19,381.75 260,366.75 262.81,369.56 265.62,359.25 267.5,350.81 269.38,368.62 270.31,378.75 272.19,395.62 275,413.44 276.88,412.5 278.75,421.88 280.62,431.25 282.5,408.75 284.75,394.69"/>
<polyline fill="none" stroke="#C44E52" stroke-width="1.0" stroke-linejoin="round" points="34.1,427.6 37.5,385 40,372.5 41.25,325.5 43.12,304.88 45.94,295.12 47.81,297.38 50.62,308.62 52.5,320.81 55.31,325.5 57.19,340.5 59.06,359.25 60.94,366.75 62.81,368.62 64.69,365.81 66.56,376.5 68.44,366.75 70.31,369.56 72.19,374.25 75,348 76.88,344.25 78.75,335.81 80.62,346.12 83.44,366.75 84.38,390 87.19,393.75 90,399.38 92.81,403.12 94.69,381.75 95.62,391.88 97.5,379.31 100.31,376.5 102.19,376.12 105,386.25 107.81,395.62 109.69,408.75 112.5,410.62 114.38,417.19 117.19,403.12 119.06,393.75 121.88,391.88 122.81,381.75 123.75,382.5 125.62,391.88 128.44,402.19 132.19,414.38 134.06,427.5 136.88,444.38 139.69,442.5 141.56,435 143.12,446.25 145.47,450.94 148.02,440 151.25,412.5 155,399.38 157.25,361.12 159.69,395.62 162.5,403.12 164.38,405 166.25,420 169.06,436.88 171.88,425.62 174.69,403.12 177.5,400.31 180.31,401.25 183.12,406.88 185.94,436.88 187.81,439.69 189.69,436.88 192.5,443.44 194.38,435 197.19,416.25 200.94,412.5 203.75,407.81 206.56,391.88 207.5,392.81 209.38,403.12 210.31,405 212.19,407.81 215,385.31 215.94,372.38 216.88,372.38 219.69,356.91 222.31,369.56 225.31,404.53 228.12,408.75 230.94,414.38 233.75,420.94 236.56,439.69 239.38,444.38 241.25,450 242.19,450 244.06,409.69 247.81,378 248.75,370.5 250.62,372.38 251.56,374.25 252.5,374.25 254.38,371.44 256.25,366.75 257.19,370.5 259.06,355.5 260.94,351.75 262.81,356.44 264.69,355.5 266.94,335.81 269.38,346.12 273.12,395.62 275.94,403.12 278.75,416.25 280.62,424.69 282.5,406.88 284.38,400.31"/>
<polyline fill="none" stroke="#111111" stroke-width="1.3" stroke-linejoin="round" points="33.8,420 34.4,418.9 36,390 37.5,396 39,400 41.25,374.62 41.3,377.5 44.06,342.38 46.88,339.56 48.75,340.5 50.62,353.62 52.5,370.5 54.38,372.38 56.25,376.12 58.12,379.88 60,386.25 62.81,384 64.69,374.25 65.62,382.5 66.56,376.12 67.5,378.75 69.38,379.31 71.25,377.44 73.12,368.62 75,351.75 77.81,344.25 79.69,342.38 81.56,355.5 84.38,378 85.31,384.38 88.12,387.19 91.88,393.75 94.69,386.25 96.56,361.12 99.38,355.5 101.25,358.31 104.06,370.5 106.88,378 107.81,382.5 110.62,390 113.44,394.69 116.25,390 118.12,363 120,358.31 123.75,355.5 124.69,357.38 126.56,370.5 128.44,378 130.31,393.75 134.06,416.25 136.88,423.75 138.75,422.81 141.56,411.56 142.81,418.12 144.38,418.12 145.62,424.69 147.34,424.69 149.38,409.69 151.25,410.62 153.12,405 155,386.25 157.25,369.56 158.75,386.25 160.62,414.38 162.5,418.12 164.38,417.19 166.25,427.5 168.12,444.38 169.06,451.88 170.94,438.75 173.75,412.5 176.56,390 180.31,389.06 182.19,397.5 185,418.12 187.81,435 189.69,431.25 190.62,423.75 192.5,429.38 195.31,420 198.12,405 200.94,399.38 203.75,398.44 207.5,388.12 209.38,393.75 210.31,399.38 212.19,403.12 214.06,390 216.88,359.25 219.69,345.66 222.31,361.12 224.38,380.25 225.31,393.75 227.19,397.5 228.12,398.44 230,399.38 230.94,401.25 233.75,405.47 235.62,418.12 236.56,420 238.44,421.88 239.38,420.94 241.25,420 242.19,422.81 243.12,393.75 244.06,386.25 245.94,360.19 248.38,350.81 250.62,355.5 252.5,363 253.44,370.5 254.38,376.88 256.25,376.12 257.19,379.88 260,361.12 261.88,356.44 263.75,357.38 266.56,338.62 268.44,344.25 270.31,366.75 272.19,391.88 275,401.25 276.88,405 278.75,414.38 280.62,420.94 282.5,397.5 284.75,384.38"/>
<text transform="translate(29.5,465.55) scale(1,1.19)" font-size="8.9" text-anchor="end">−1.5</text>
<text transform="translate(29.5,441.53) scale(1,1.19)" font-size="8.9" text-anchor="end">−1.0</text>
<text transform="translate(29.5,417.51) scale(1,1.19)" font-size="8.9" text-anchor="end">−0.5</text>
<text transform="translate(29.5,393.5) scale(1,1.19)" font-size="8.9" text-anchor="end">0.0</text>
<text transform="translate(29.5,369.49) scale(1,1.19)" font-size="8.9" text-anchor="end">0.5</text>
<text transform="translate(29.5,345.47) scale(1,1.19)" font-size="8.9" text-anchor="end">1.0</text>
<text transform="translate(29.5,321.45) scale(1,1.19)" font-size="8.9" text-anchor="end">1.5</text>
<text transform="translate(29.5,297.44) scale(1,1.19)" font-size="8.9" text-anchor="end">2.0</text>
<text transform="translate(59.4,467.2) rotate(-90) scale(1,1.12)" font-size="9" text-anchor="end">1999</text>
<text transform="translate(82.86,467.2) rotate(-90) scale(1,1.12)" font-size="9" text-anchor="end">2000</text>
<text transform="translate(106.32,467.2) rotate(-90) scale(1,1.12)" font-size="9" text-anchor="end">2001</text>
<text transform="translate(129.78,467.2) rotate(-90) scale(1,1.12)" font-size="9" text-anchor="end">2002</text>
<text transform="translate(153.24,467.2) rotate(-90) scale(1,1.12)" font-size="9" text-anchor="end">2003</text>
<text transform="translate(176.7,467.2) rotate(-90) scale(1,1.12)" font-size="9" text-anchor="end">2004</text>
<text transform="translate(200.16,467.2) rotate(-90) scale(1,1.12)" font-size="9" text-anchor="end">2005</text>
<text transform="translate(223.62,467.2) rotate(-90) scale(1,1.12)" font-size="9" text-anchor="end">2006</text>
<text transform="translate(247.08,467.2) rotate(-90) scale(1,1.12)" font-size="9" text-anchor="end">2007</text>
<text transform="translate(270.54,467.2) rotate(-90) scale(1,1.12)" font-size="9" text-anchor="end">2008</text>
<text transform="translate(170.65,280.2) scale(1,1.08)" font-size="10.2" text-anchor="middle">Residual Time Series (ENSO)</text>
<text transform="translate(170.65,291.1) scale(1,1.08)" font-size="10.2" text-anchor="middle">NINO 3.4</text>
<text transform="translate(170.95,498.3) scale(1,1.1)" font-size="9.3" text-anchor="middle">Date</text>
<text transform="translate(7.2,378.45) rotate(-90) scale(1,1.1)" font-size="9.3" text-anchor="middle">Prediction Error</text>
<line x1="129" y1="306.2" x2="147.75" y2="306.2" stroke="#4C72B0" stroke-width="1.0"/>
<text transform="translate(155,309.8) scale(1,1.15)" font-size="9.1">Ground Truth</text>
<line x1="129" y1="319.4" x2="147.75" y2="319.4" stroke="#55A868" stroke-width="1.0"/>
<text transform="translate(155,323) scale(1,1.15)" font-size="9.1">R2N2 (0.583)</text>
<line x1="129" y1="332.6" x2="147.75" y2="332.6" stroke="#C44E52" stroke-width="1.0"/>
<text transform="translate(155,336.2) scale(1,1.15)" font-size="9.1">VAR-1 (0.803)</text>
<line x1="129" y1="345.8" x2="147.75" y2="345.8" stroke="#111111" stroke-width="1.3"/>
<text transform="translate(155,349.4) scale(1,1.15)" font-size="9.1">RNN (0.599)</text>
<text class="cap" transform="translate(159.3,516.4)" font-size="12.65" text-anchor="middle">(c) Prediction residuals for an ENSO index</text>
<line x1="385.7" y1="294.6" x2="385.7" y2="462.5" stroke="#dcdcdc"/>
<line x1="409.26" y1="294.6" x2="409.26" y2="462.5" stroke="#dcdcdc"/>
<line x1="432.82" y1="294.6" x2="432.82" y2="462.5" stroke="#dcdcdc"/>
<line x1="456.38" y1="294.6" x2="456.38" y2="462.5" stroke="#dcdcdc"/>
<line x1="479.94" y1="294.6" x2="479.94" y2="462.5" stroke="#dcdcdc"/>
<line x1="503.5" y1="294.6" x2="503.5" y2="462.5" stroke="#dcdcdc"/>
<line x1="527.06" y1="294.6" x2="527.06" y2="462.5" stroke="#dcdcdc"/>
<line x1="550.62" y1="294.6" x2="550.62" y2="462.5" stroke="#dcdcdc"/>
<line x1="574.18" y1="294.6" x2="574.18" y2="462.5" stroke="#dcdcdc"/>
<line x1="597.74" y1="294.6" x2="597.74" y2="462.5" stroke="#dcdcdc"/>
<line x1="364.7" y1="453.2" x2="638.4" y2="453.2" stroke="#dcdcdc"/>
<line x1="364.7" y1="430.55" x2="638.4" y2="430.55" stroke="#dcdcdc"/>
<line x1="364.7" y1="407.9" x2="638.4" y2="407.9" stroke="#dcdcdc"/>
<line x1="364.7" y1="385.25" x2="638.4" y2="385.25" stroke="#dcdcdc"/>
<line x1="364.7" y1="362.6" x2="638.4" y2="362.6" stroke="#dcdcdc"/>
<line x1="364.7" y1="339.95" x2="638.4" y2="339.95" stroke="#dcdcdc"/>
<line x1="364.7" y1="317.3" x2="638.4" y2="317.3" stroke="#dcdcdc"/>
<line x1="364.7" y1="294.65" x2="638.4" y2="294.65" stroke="#dcdcdc"/>
<rect x="364.7" y="294.6" width="273.7" height="167.9" fill="none" stroke="#d0d0d0"/>
<polyline fill="none" stroke="#4C72B0" stroke-width="1.0" stroke-linejoin="round" points="364.7,362.6 617.5,362.6"/>
<polyline fill="none" stroke="#55A868" stroke-width="1.0" stroke-linejoin="round" points="364.8,392 367.4,365 370.6,391.4 372.7,393.6 374.8,370 376.2,350 377.81,331.12 378.75,340.5 380.62,351.75 382.5,336.75 383.44,399.38 384.38,370.5 386.25,384.38 388.12,378.75 389.06,372.38 390.94,351.75 393.75,363 397.5,376.12 400.31,353.62 405,327.38 406.88,346.12 408.75,361.12 412.5,370.5 414.38,378.75 415.31,390 416.25,381.75 417.19,382.5 420,364.88 423.75,359.25 427.5,338.62 429.38,319.88 432.19,344.25 435,363 435.94,380.62 437.81,387.19 439.69,382.5 442.5,348 446.25,336.75 450,303 451.88,310.5 453.75,322.69 455.62,340.5 457.5,384.38 461.25,397.5 462.6,402.8 465.5,391.2 467.8,373.9 470.1,364.7 473.6,379.7 476.45,397 478.2,389 481.1,375 482.8,379.7 484.5,362.3 485.8,345 487.81,316.12 489.69,334.88 491.5,356.6 493.2,391.2 494.9,379.7 497,400 499.06,430.31 501.88,420 504.69,408.75 505.62,397.5 506.56,372.38 509.38,374.25 511.25,344.25 513.12,357.38 515,336.75 517.81,369 520.62,390 523.44,407.81 526.25,401.25 528.12,376.5 529.38,363 530.94,344.25 532.19,361.12 534.38,370.5 536.98,361.69 538.65,375.44 540.83,376.38 544.22,352.69 546.09,337.69 548.44,354.56 550.78,385.31 552.66,405 554.92,385.59 556.41,371.44 559.38,374.25 563.91,396.56 567.19,415.31 570,403.12 571.88,394.69 573.75,393.75 576.77,365.12 580.62,310.5 582.19,302.53 583.75,310.5 585.94,334.88 589.38,370.5 592.19,340.5 595,349.88 598.75,420 601,435.94 603.44,423.75 605.31,418.12 607.19,408.75 609.06,433.12 611.5,434.06 613.38,410.62 615.62,388.12"/>
<polyline fill="none" stroke="#C44E52" stroke-width="1.0" stroke-linejoin="round" points="364.12,436.88 367.12,429.38 369,430.31 370.31,431.25 371.62,420 373.12,408.75 375,380.25 378.75,344.25 381.94,323.62 383.44,349.88 386.25,343.31 389.06,351.75 391.5,323.62 393.75,342.38 395.62,337.69 397.5,364.88 399.38,363 401.62,332.06 403.5,346.12 405,329.25 406.88,359.25 409.69,351.75 412.5,364.88 414.38,380.62 415.31,376.12 416.25,383.44 418.12,370.5 420.94,363 422.81,349.88 424.69,370.5 427.5,346.12 429.38,338.62 433.12,359.25 435,382.12 437.81,399.38 439.69,398.44 440.62,370.5 441.56,386.25 444.38,357.38 448.12,338.62 450,324.56 451.88,334.88 453.75,348 455.62,349.88 457.5,380.25 459.38,414.38 460.69,428.44 462.3,405 465.5,398.2 468.4,373.9 470.7,365.2 472.4,372.7 474.1,391.2 475.9,404 478.2,393.6 480.5,383.2 483.4,382 484.5,368.1 485.94,355.5 487.81,304.88 489.69,325.5 492,365.8 495.5,357.7 496.7,368.1 497.8,391.2 500,405 502.81,397.5 504.69,397.5 506.56,366.75 508.44,361.12 511.25,340.5 513.5,348 515,333 517.81,355.5 519.69,384.38 520.62,381.75 522.66,421.88 525.47,407.81 527.6,384.12 529.38,359.25 531.09,341.44 532.81,363 534.38,365.81 536.72,341.44 538.59,360.19 541.25,359.25 542.5,355.5 544.06,349.88 546.09,327.38 548.91,348.94 552.5,397.5 553.75,399.38 555.94,374.62 558.28,376.12 560.31,378.84 561.88,378 563.75,399.38 565,408.75 567.66,433.59 570,412.97 571.88,413.91 573.75,413.91 576.25,384.38 577.5,351.75 582.19,308.62 584.53,310.5 586.88,330.19 588.44,336.75 592.19,329.25 595,336.75 600.25,420 602.5,412.5 605.31,405 607.19,403.12 609.06,420 611.88,412.5 613.75,390 615.62,383.44"/>
<polyline fill="none" stroke="#111111" stroke-width="1.3" stroke-linejoin="round" points="364.8,402 366.4,393.6 368.5,402 370.2,419 371.65,406 374.8,368 376.88,342.38 378.19,335.81 379.69,349.88 381.56,338.62 382.5,342.38 383.44,376.5 384.38,382.5 385.31,381.75 386.25,382.5 387.19,379.88 388.12,380.62 389.06,381.75 390.94,355.5 391.88,349.88 393.75,359.25 395.62,361.12 396.56,366.75 397.5,380.25 399.38,378.84 401.25,361.12 402.75,344.25 404.06,357.38 405.94,336.75 408.75,363 410.62,364.88 412.5,368.62 414.38,376.12 415.31,379.69 416.25,379.88 420,363 421.88,349.88 423.38,341.44 424.69,357.38 426.56,363 427.88,334.88 429.38,318 431.25,331.12 433.12,351.75 435,363 436.88,384.38 438.75,384.38 440.62,355.5 444.38,344.25 448.12,325.5 450.94,298.31 452.81,319.88 454.69,323.62 456.56,346.12 459.38,390 462.19,403.12 466.3,370 470.1,349.6 471.8,352 473.6,364.7 475.9,387.8 477.6,384.3 479.3,369.3 481.7,370.4 483.4,379.7 485.1,356.6 486.4,340 487.81,306.75 490.62,333 491.5,345 493.2,368 494.4,378.5 495.5,364.7 496.7,379.7 498,395 499.06,415.31 500.94,405 503.75,395.62 505.62,395.62 507.5,349.88 509.38,353.62 511.25,333 513.12,344.25 515.38,327.38 517.81,349.88 519.69,370.5 520.62,384.38 523.12,405.94 525.47,396.56 527.5,386.25 529.22,346.12 530.91,333.94 532.78,355.5 534.66,359.25 536.53,339.09 538.41,357.38 540.94,355.5 543.75,340.5 546.28,323.62 547.97,334.88 549.84,363 552.66,387.66 554.48,375.38 556.22,338.62 557.34,363 559.69,366.75 561.67,378.25 563.12,393.75 564.69,399.38 565.94,406.88 567.66,411.56 569.53,395.62 571.41,387.66 573.28,393.28 575.16,384.38 577.19,349.88 578.75,325.5 580,312.38 581.56,301.12 583.12,299.25 585,311.44 586.56,325.5 588.28,348.94 590.31,342.38 592.19,324.56 594.06,325.5 595.94,344.25 598.75,399.38 600.62,420 602.5,418.12 605.31,399.38 607.19,393.75 609.06,418.12 610.94,412.5 612.81,390 615.62,368.62"/>
<text transform="translate(360.7,456.2) scale(1,1.19)" font-size="8.9" text-anchor="end">−2.0</text>
<text transform="translate(360.7,433.55) scale(1,1.19)" font-size="8.9" text-anchor="end">−1.5</text>
<text transform="translate(360.7,410.9) scale(1,1.19)" font-size="8.9" text-anchor="end">−1.0</text>
<text transform="translate(360.7,388.25) scale(1,1.19)" font-size="8.9" text-anchor="end">−0.5</text>
<text transform="translate(360.7,365.6) scale(1,1.19)" font-size="8.9" text-anchor="end">0.0</text>
<text transform="translate(360.7,342.95) scale(1,1.19)" font-size="8.9" text-anchor="end">0.5</text>
<text transform="translate(360.7,320.3) scale(1,1.19)" font-size="8.9" text-anchor="end">1.0</text>
<text transform="translate(360.7,297.65) scale(1,1.19)" font-size="8.9" text-anchor="end">1.5</text>
<text transform="translate(389.6,467.4) rotate(-90) scale(1,1.12)" font-size="9" text-anchor="end">1999</text>
<text transform="translate(413.16,467.4) rotate(-90) scale(1,1.12)" font-size="9" text-anchor="end">2000</text>
<text transform="translate(436.72,467.4) rotate(-90) scale(1,1.12)" font-size="9" text-anchor="end">2001</text>
<text transform="translate(460.28,467.4) rotate(-90) scale(1,1.12)" font-size="9" text-anchor="end">2002</text>
<text transform="translate(483.84,467.4) rotate(-90) scale(1,1.12)" font-size="9" text-anchor="end">2003</text>
<text transform="translate(507.4,467.4) rotate(-90) scale(1,1.12)" font-size="9" text-anchor="end">2004</text>
<text transform="translate(530.96,467.4) rotate(-90) scale(1,1.12)" font-size="9" text-anchor="end">2005</text>
<text transform="translate(554.52,467.4) rotate(-90) scale(1,1.12)" font-size="9" text-anchor="end">2006</text>
<text transform="translate(578.08,467.4) rotate(-90) scale(1,1.12)" font-size="9" text-anchor="end">2007</text>
<text transform="translate(601.64,467.4) rotate(-90) scale(1,1.12)" font-size="9" text-anchor="end">2008</text>
<text transform="translate(501.55,280.4) scale(1,1.08)" font-size="10.2" text-anchor="middle">Residual Time Series (ENSO)</text>
<text transform="translate(501.55,291.3) scale(1,1.08)" font-size="10.2" text-anchor="middle">NINO 1+2</text>
<text transform="translate(501.55,498.4) scale(1,1.1)" font-size="9.3" text-anchor="middle">Date</text>
<text transform="translate(338.1,378.55) rotate(-90) scale(1,1.1)" font-size="9.3" text-anchor="middle">Prediction Error</text>
<line x1="372.2" y1="409.7" x2="391.5" y2="409.7" stroke="#4C72B0" stroke-width="1.0"/>
<text transform="translate(398.4,413.3) scale(1,1.15)" font-size="9.1">Ground Truth</text>
<line x1="372.2" y1="423" x2="391.5" y2="423" stroke="#55A868" stroke-width="1.0"/>
<text transform="translate(398.4,426.6) scale(1,1.15)" font-size="9.1">R2N2 (0.312)</text>
<line x1="372.2" y1="436.3" x2="391.5" y2="436.3" stroke="#C44E52" stroke-width="1.0"/>
<text transform="translate(398.4,439.9) scale(1,1.15)" font-size="9.1">VAR-1 (0.320)</text>
<line x1="372.2" y1="449.6" x2="391.5" y2="449.6" stroke="#111111" stroke-width="1.3"/>
<text transform="translate(398.4,453.2) scale(1,1.15)" font-size="9.1">RNN (0.287)</text>
<text class="cap" transform="translate(489.6,516.4)" font-size="12.65" text-anchor="middle">(d) Prediction residuals for another ENSO index</text>
</svg></body></html>
